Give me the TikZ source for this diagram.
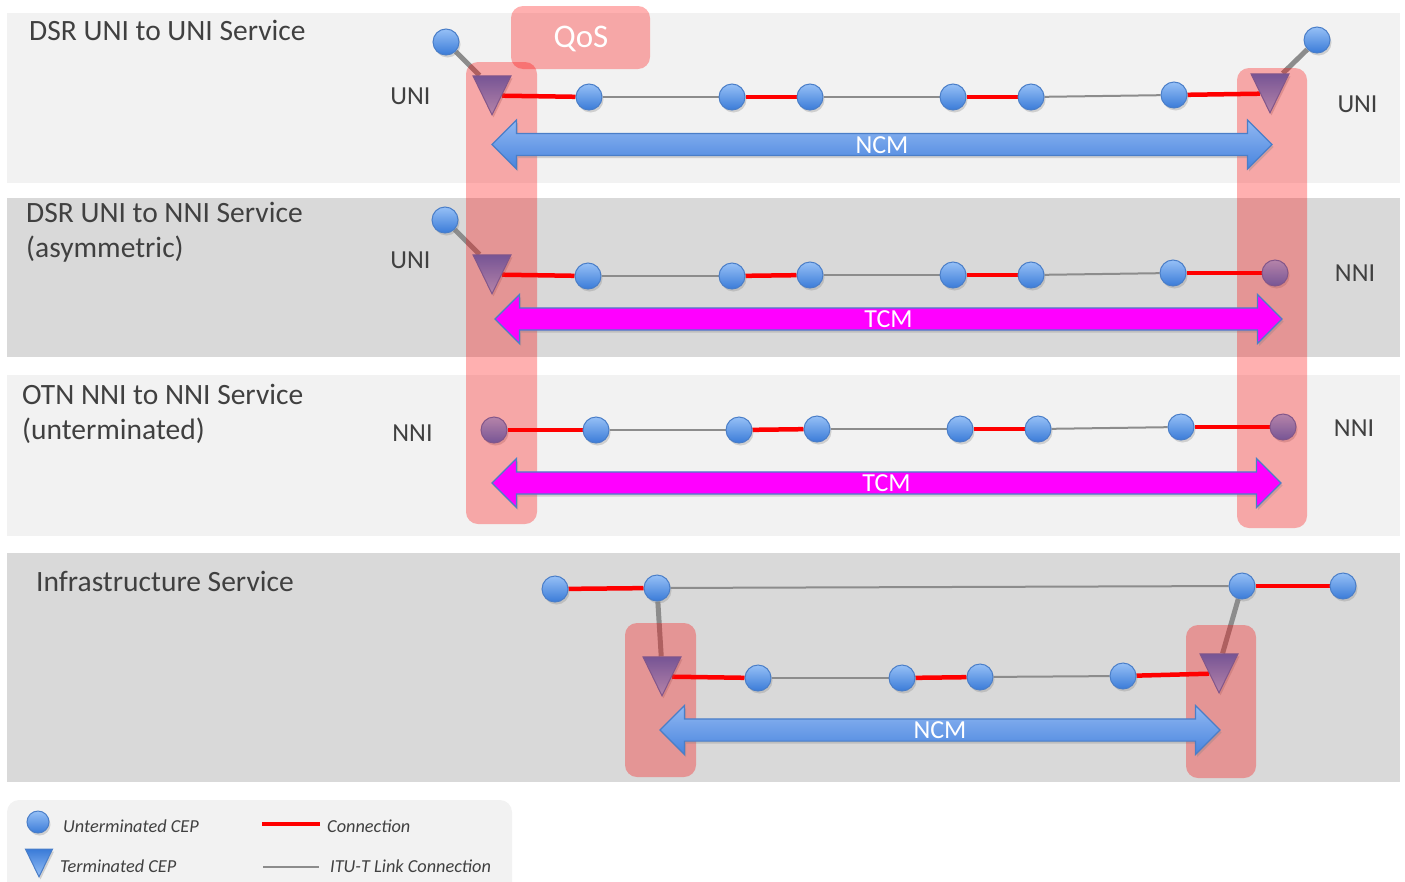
\documentclass[tikz,border=0pt]{standalone}
\usepackage{fontspec}
\setmainfont{Carlito}
\usetikzlibrary{shapes.geometric,shapes.arrows,shadows}
\definecolor{fondoClaro}{RGB}{242,242,242}
\definecolor{fondoOscuro}{RGB}{217,217,217}
\definecolor{texto}{RGB}{64,64,64}
\definecolor{azulClaro}{RGB}{150,192,246}
\definecolor{azulOscuro}{RGB}{58,123,216}
\definecolor{borde}{RGB}{74,126,200}
\definecolor{flechaClaro}{RGB}{145,184,242}
\definecolor{flechaOscuro}{RGB}{72,132,222}
\definecolor{gris}{RGB}{140,140,140}
\definecolor{rojo}{RGB}{255,0,0}
\definecolor{fucsia}{RGB}{255,0,255}
\pgfdeclarelayer{fondo}
\pgfdeclarelayer{puntos}
\pgfdeclarelayer{tinte}
\pgfsetlayers{fondo,puntos,tinte,main}
\tikzset{
  sombra/.style={drop shadow={shadow xshift=1.5pt,shadow yshift=-2.5pt,opacity=0.3}},
  cep/.style={circle,minimum size=26pt,inner sep=0pt,top color=azulClaro,bottom color=azulOscuro,
    draw=borde,line width=1pt,sombra},
  tcep/.style={isosceles triangle,shape border rotate=270,isosceles triangle apex angle=52,anchor=apex,
    minimum size=38pt,inner sep=0pt,top color=azulOscuro,bottom color=azulClaro,draw=borde,line width=1pt,sombra},
  conn/.style={rojo,line width=4.5pt},
  link/.style={gris,line width=2pt},
  stub/.style={gris,line width=5pt},
  zona/.style={fill=red,fill opacity=0.31,rounded corners=12pt},
  flecha/.style={double arrow,double arrow head extend=11pt,minimum width=49pt,inner sep=0pt,
    text height=17pt,text depth=0pt,draw=borde,line width=1.2pt,text=white,
    font=\fontsize{26}{26}\selectfont,sombra},
  ncm/.style={flecha,top color=flechaClaro,bottom color=flechaOscuro},
  tcm/.style={flecha,fill=fucsia},
  titulo/.style={anchor=base west,align=left,inner sep=0pt,text=texto,font=\fontsize{29.5}{35}\selectfont},
  iface/.style={inner sep=0pt,text height=16.7pt,text depth=0pt,text=texto,font=\fontsize{26}{26}\selectfont},
  leyenda/.style={anchor=base west,inner sep=0pt,text=texto,font=\fontsize{18.3}{18}\selectfont\itshape}
}
\begin{document}
\begin{tikzpicture}[x=1pt,y=-1pt]
  \useasboundingbox (0,0) rectangle (1405,881);
  % puntos de conexion (debajo del tinte)
  \begin{pgfonlayer}{puntos}
    \node[cep] (aU) at (446,42) {};
    \node[cep] (aV) at (1317,40) {};
    \node[tcep] (aL) at (492,116) {};
    \node[tcep] (aR) at (1270,114) {};
    \foreach \n/\x/\y in {1/589/97,2/732/97,3/810/97,4/953/97,5/1031/97,6/1174/95}
      \node[cep] (a\n) at (\x,\y) {};
    \node[cep] (bU) at (445,220) {};
    \node[tcep] (bL) at (492,295) {};
    \node[cep] (bR) at (1275,273) {};
    \foreach \n/\x/\y in {1/588/276,2/732/276,3/810/275,4/953/275,5/1031/275,6/1173/273}
      \node[cep] (b\n) at (\x,\y) {};
    \node[cep] (cL) at (494,430) {};
    \node[cep] (cR) at (1283,427) {};
    \foreach \n/\x/\y in {1/596/430,2/739/430,3/817/429,4/960/429,5/1038/429,6/1181/427}
      \node[cep] (c\n) at (\x,\y) {};
    \node[cep] (d1) at (555,589) {};
    \node[cep] (d2) at (657,588) {};
    \node[cep] (d3) at (1242,586) {};
    \node[cep] (d4) at (1343,586) {};
    \node[tcep] (dL) at (662,697) {};
    \node[tcep] (dR) at (1219,694) {};
    \foreach \n/\x/\y in {1/758/678,2/902/678,3/980/677,4/1123/676}
      \node[cep] (e\n) at (\x,\y) {};
  \end{pgfonlayer}
  % bandas y conexiones
  \begin{pgfonlayer}{fondo}
    \fill[fondoClaro] (7,13) rectangle (1400,183);
    \fill[fondoOscuro] (7,198) rectangle (1400,357);
    \fill[fondoClaro] (7,375) rectangle (1400,536);
    \fill[fondoOscuro] (7,553) rectangle (1400,782);
    \fill[fondoClaro,rounded corners=12pt] (7,800) rectangle (512,900);
    \draw[conn] (aL.left side) -- (a1);
    \draw[conn] (bL.left side) -- (b1);
    \draw[conn] (cL) -- (c1);
    \foreach \r in {a,b,c}{
      \draw[link] (\r1) -- (\r2);
      \draw[conn] (\r2) -- (\r3);
      \draw[link] (\r3) -- (\r4);
      \draw[conn] (\r4) -- (\r5);
      \draw[link] (\r5) -- (\r6);
    }
    \draw[conn] (a6) -- (aR.right side);
    \draw[conn] (b6) -- (bR);
    \draw[conn] (c6) -- (cR);
    \draw[stub] (aU) -- (aL);
    \draw[stub] (aV) -- (aR);
    \draw[stub] (bU) -- (bL);
    \draw[conn] (d1) -- (d2);
    \draw[link] (d2) -- (d3);
    \draw[conn] (d3) -- (d4);
    \draw[stub] (d2) -- (dL);
    \draw[stub] (d3) -- (dR);
    \draw[conn] (dL.left side) -- (e1);
    \draw[link] (e1) -- (e2);
    \draw[conn] (e2) -- (e3);
    \draw[link] (e3) -- (e4);
    \draw[conn] (e4) -- (dR.right side);
  \end{pgfonlayer}
  % zonas QoS
  \begin{pgfonlayer}{tinte}
    \fill[zona] (466,62) rectangle (537,524);
    \fill[zona] (1237,68) rectangle (1307,528);
    \fill[zona] (625,623) rectangle (696,777);
    \fill[zona] (1186,625) rectangle (1256,778);
    \fill[zona] (511,6) rectangle (650,69);
  \end{pgfonlayer}
  \node[inner sep=0pt,text height=21pt,text depth=0pt,text=white,font=\fontsize{33}{33}\selectfont] (qos) at (581,37) {QoS};
  % flechas NCM / TCM
  \node[ncm,minimum height=780pt] (ncmA) at (882,144.5) {NCM};
  \node[tcm,minimum height=787pt] (tcmB) at (888.5,319) {TCM};
  \node[tcm,minimum height=789pt] (tcmC) at (886.5,483) {TCM};
  \node[ncm,minimum height=560pt] (ncmD) at (940,730) {NCM};
  % textos
  \node[titulo] (tA) at (29,40) {DSR UNI to UNI Service};
  \node[titulo] (tB) at (26,257) {DSR UNI to NNI Service\\(asymmetric)};
  \node[titulo] (tC) at (22,439) {OTN NNI to NNI Service\\(unterminated)};
  \node[titulo] (tD) at (36,591) {Infrastructure Service};
  \node[iface] (iA1) at (410.5,96) {UNI};
  \node[iface] (iA2) at (1357.5,104) {UNI};
  \node[iface] (iB1) at (410.5,260) {UNI};
  \node[iface] (iB2) at (1355,273) {NNI};
  \node[iface] (iC1) at (412.5,433) {NNI};
  \node[iface] (iC2) at (1354,428) {NNI};
  % leyenda
  \node[cep,minimum size=22pt] (lCep) at (38,822) {};
  \node[tcep,minimum size=27pt] (lTcep) at (39,878) {};
  \coordinate (lc1) at (262,824);
  \coordinate (lc2) at (320,824);
  \coordinate (ll1) at (263,867);
  \coordinate (ll2) at (319,867);
  \draw[conn,line width=4pt] (lc1) -- (lc2);
  \draw[link] (ll1) -- (ll2);
  \node[leyenda] (tU) at (63,832) {Unterminated CEP};
  \node[leyenda] (tT) at (60,872) {Terminated CEP};
  \node[leyenda] (tCn) at (327,832) {Connection};
  \node[leyenda] (tL) at (330,872) {ITU-T Link Connection};
\end{tikzpicture}
\end{document}
